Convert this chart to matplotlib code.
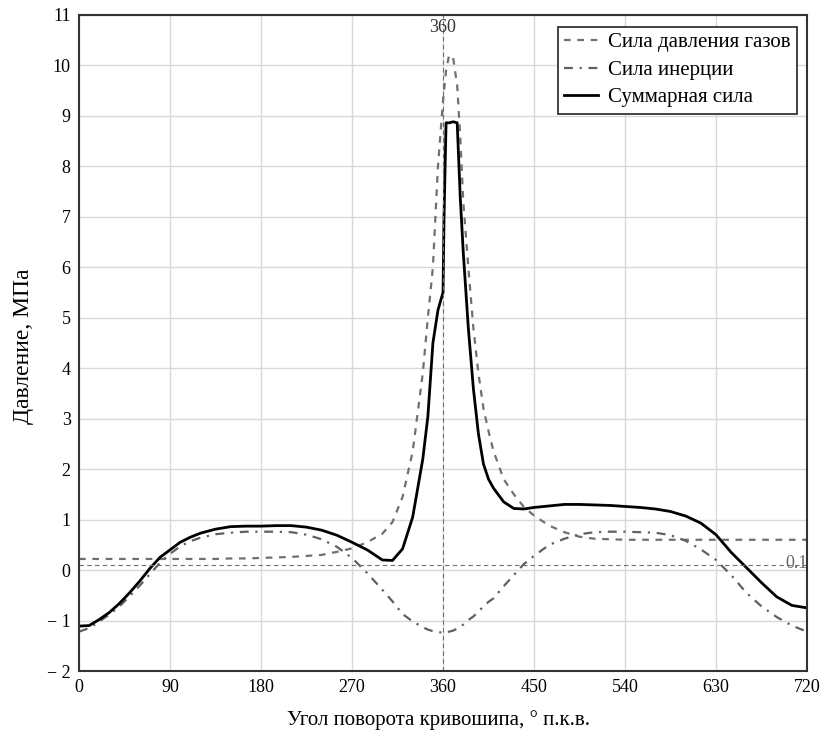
import matplotlib
matplotlib.use("Agg")
import matplotlib.pyplot as plt
import numpy as np

plt.rcParams['font.family'] = ['Liberation Serif', 'DejaVu Serif']

# угол поворота, град п.к.в.
ang = [0, 10, 20, 30, 40, 50, 60, 70, 80, 90, 100, 110, 120, 135, 150, 165, 180,
       195, 210, 225, 240, 255, 270, 285, 300, 310, 320, 330, 340, 345, 350, 355,
       360, 361, 363, 366, 370, 374, 377, 380, 385, 390, 395, 400, 405, 410, 420,
       430, 440, 450, 465, 480, 495, 510, 525, 540, 555, 570, 585, 600, 615, 630,
       645, 660, 675, 690, 705, 720]

gas = [0.22, 0.22, 0.22, 0.22, 0.22, 0.22, 0.22, 0.22, 0.22, 0.22, 0.22, 0.22, 0.22, 0.22, 0.23, 0.23, 0.24,
       0.25, 0.26, 0.28, 0.30, 0.36, 0.43, 0.55, 0.72, 0.95, 1.45, 2.35, 3.9, 5.0, 6.0, 8.0,
       9.3, 9.5, 9.9, 10.2, 10.15, 9.6, 8.6, 7.3, 6.0, 4.8, 3.9, 3.2, 2.75, 2.35, 1.8,
       1.5, 1.25, 1.08, 0.88, 0.75, 0.66, 0.62, 0.61, 0.6, 0.6, 0.6, 0.6, 0.6, 0.6, 0.6,
       0.6, 0.6, 0.6, 0.6, 0.6, 0.6]

inertia = [-1.22, -1.15, -1.02, -0.88, -0.72, -0.52, -0.31, -0.08, 0.14, 0.32, 0.47, 0.57, 0.64, 0.71, 0.74, 0.76, 0.76,
           0.76, 0.75, 0.70, 0.61, 0.46, 0.24, -0.06, -0.39, -0.62, -0.87, -1.02, -1.13, -1.18, -1.21, -1.23,
           -1.24, -1.24, -1.24, -1.22, -1.20, -1.16, -1.12, -1.08, -0.99, -0.92, -0.82, -0.72, -0.63, -0.56, -0.32,
           -0.10, 0.12, 0.28, 0.50, 0.62, 0.71, 0.75, 0.76, 0.76, 0.75, 0.74, 0.69, 0.58, 0.41, 0.20,
           -0.10, -0.45, -0.72, -0.93, -1.10, -1.22]

total = [-1.11, -1.10, -0.98, -0.84, -0.66, -0.45, -0.22, 0.03, 0.25, 0.40, 0.55, 0.65, 0.73, 0.81, 0.86, 0.87, 0.87,
         0.88, 0.88, 0.85, 0.79, 0.69, 0.55, 0.40, 0.20, 0.19, 0.42, 1.05, 2.2, 3.04, 4.5, 5.15,
         5.5, 7.0, 8.86, 8.86, 8.88, 8.86, 7.4, 6.3, 4.8, 3.6, 2.7, 2.1, 1.8, 1.62, 1.35,
         1.22, 1.21, 1.24, 1.27, 1.30, 1.30, 1.29, 1.28, 1.26, 1.24, 1.21, 1.16, 1.07, 0.93, 0.70,
         0.35, 0.05, -0.25, -0.53, -0.70, -0.75]

xticks = [0, 90, 180, 270, 360, 450, 540, 630, 720]
yticks = list(range(-2, 12))
ytick_labels = ['\u2212 2', '\u2212 1'] + [str(v) for v in range(0, 12)]

p0 = 0.1
tdc = 360

fig = plt.figure(figsize=(8.25, 7.39), dpi=100)
ax = fig.add_axes([0.0958, 0.092, 0.8824, 0.888])

ax.plot(ang, gas, color='#707070', lw=1.6, ls=(0, (3, 3)), label='Сила давления газов')
ax.plot(ang, inertia, color='#606060', lw=1.6, ls=(0, (4, 3, 1, 3)), label='Сила инерции')
ax.plot(ang, total, color='black', lw=2.0, label='Суммарная сила')

ax.axhline(p0, color='#707070', lw=0.8, ls=(0, (4, 3)))
ax.axvline(tdc, color='#707070', lw=0.8, ls=(0, (4, 3)))
ax.text(tdc, 10.75, '360', ha='center', va='center', fontsize=13, color='#333333')
ax.text(710, p0 + 0.02, '0.1', ha='center', va='center', fontsize=13, color='#666666')

ax.set_xlim(0, 720)
ax.set_ylim(-2, 11)
ax.set_xticks(xticks)
ax.set_yticks(yticks)
ax.set_yticklabels(ytick_labels)
ax.tick_params(length=0, labelsize=13, pad=6)
ax.grid(True, color='#d8d8d8', lw=1.0)
ax.set_axisbelow(True)
for s in ax.spines.values():
    s.set_color('#333333')
    s.set_linewidth(1.5)

ax.set_xlabel('Угол поворота кривошипа, \u00b0 п.к.в.', fontsize=15, va='center')
ax.xaxis.set_label_coords(0.494, -0.075)
ax.set_ylabel('Давление, МПа', fontsize=17, va='center')
ax.yaxis.set_label_coords(-0.076, 0.495)

leg = ax.legend(loc='upper right', fontsize=15, frameon=True, fancybox=False,
                handlelength=1.6, borderpad=0.3, labelspacing=0.38, handletextpad=0.5,
                borderaxespad=0, bbox_to_anchor=(0.986, 0.982))
leg.get_frame().set_edgecolor('#222222')
leg.get_frame().set_linewidth(1.2)
leg.get_frame().set_alpha(1)

fig.savefig('out.png', dpi=100)
